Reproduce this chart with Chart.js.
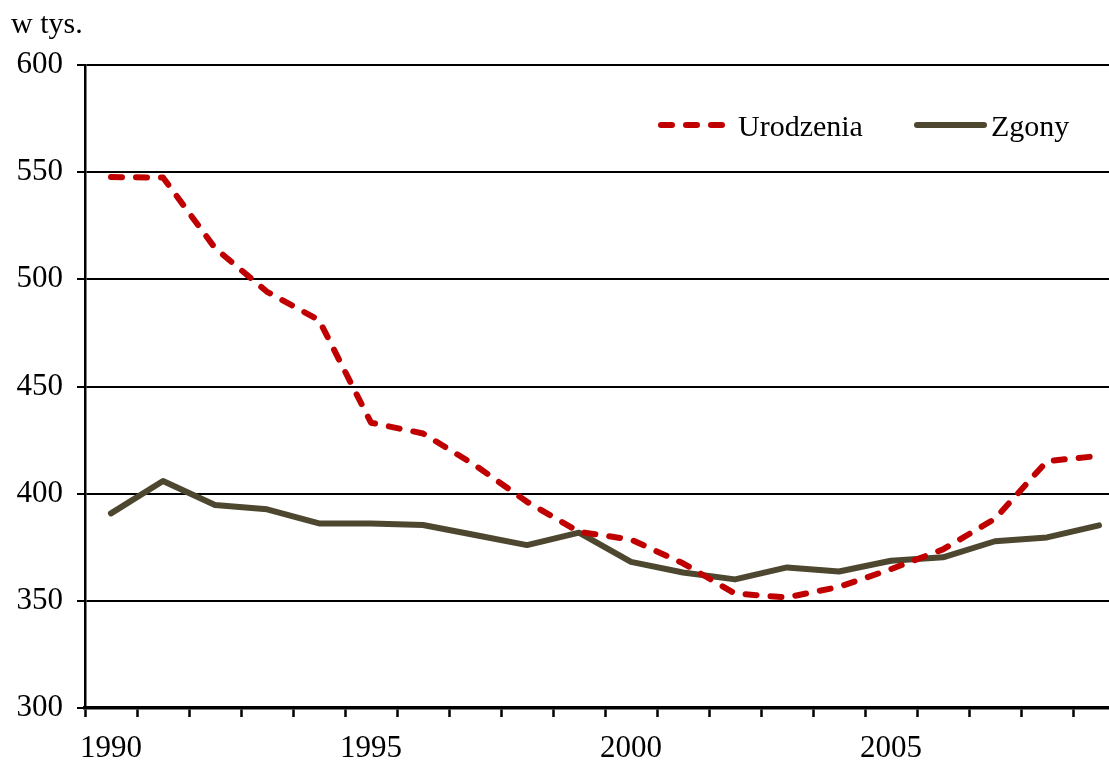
<!DOCTYPE html>
<html>
<head>
<meta charset="utf-8">
<script src="https://cdn.jsdelivr.net/npm/chart.js@4/dist/chart.umd.min.js"></script>
<style>
    html, body { margin: 0; padding: 0; background: #fff; overflow: hidden; }
    #wrap { width: 1125px; height: 764px; }
</style>
</head>
<body>
<div id="wrap"><canvas id="chart" width="1125" height="764"></canvas></div>
<script>
// ───────────────────────── DATA ─────────────────────────
const years     = ["1990", "1991", "1992", "1993", "1994", "1995", "1996", "1997", "1998", "1999",
                   "2000", "2001", "2002", "2003", "2004", "2005", "2006", "2007", "2008", "2009"];
const urodzenia = [547.7, 547.5, 514.6, 494.2, 481.0, 433.1, 428.1, 413.3, 396.2, 382.2,
                   378.6, 367.5, 353.4, 351.6, 356.5, 364.8, 374.0, 388.3, 415.2, 417.6];
const zgony     = [390.8, 405.9, 394.7, 392.7, 386.1, 386.1, 385.4, 380.7, 376.0, 381.8,
                   368.2, 363.2, 360.0, 365.6, 363.7, 368.7, 370.3, 377.8, 379.6, 385.2];
const yTicks    = [300, 350, 400, 450, 500, 550, 600];
const unitLabel = "w tys.";

const FONT  = "'Liberation Serif', 'Times New Roman', serif";
const RED   = "#c00000";
const OLIVE = "#4d4730";

// ───────────────────────── EXTRAS (unit label + legend) ─────────────────────────
const extrasPlugin = {
    id: "extras",
    afterDraw(chart) {
        const ctx = chart.ctx;
        ctx.save();
        ctx.fillStyle = "#000";
        ctx.font = "30px " + FONT;
        ctx.textBaseline = "alphabetic";
        ctx.textAlign = "left";
        ctx.fillText(unitLabel, 11, 33);

        // legend entries, drawn in dataset order
        const entries = [
            { x: 661, textX: 738 },
            { x: 917, textX: 991 }
        ];
        chart.data.datasets.forEach((ds, i) => {
            const e = entries[i];
            const y = 125;
            ctx.strokeStyle = ds.borderColor;
            ctx.lineWidth = ds.borderWidth;
            ctx.lineCap = "round";
            ctx.setLineDash(ds.borderDash || []);
            ctx.beginPath();
            if (ds.borderDash) {
                ctx.moveTo(e.x, y);
                ctx.lineTo(e.x + 64, y);
            } else {
                ctx.moveTo(e.x, y);
                ctx.lineTo(e.x + 67, y);
            }
            ctx.stroke();
            ctx.setLineDash([]);
            ctx.fillStyle = "#000";
            ctx.font = "30px " + FONT;
            ctx.textBaseline = "middle";
            ctx.fillText(ds.label, e.textX, y + 3);
        });
        ctx.restore();
    }
};

// ───────────────────────── CHART ─────────────────────────
const ctx = document.getElementById("chart").getContext("2d");
new Chart(ctx, {
    type: "line",
    data: {
        labels: years,
        datasets: [{
            label:          "Urodzenia",
            data:           urodzenia,
            borderColor:    RED,
            borderWidth:    6,
            borderDash:     [11, 14],
            borderCapStyle: "round",
            borderJoinStyle: "round",
            pointRadius:    0,
            tension:        0,
            fill:           false
        }, {
            label:          "Zgony",
            data:           zgony,
            borderColor:    OLIVE,
            borderWidth:    6,
            borderCapStyle: "round",
            borderJoinStyle: "round",
            pointRadius:    0,
            tension:        0,
            fill:           false
        }]
    },
    options: {
        responsive: false,
        animation: false,
        devicePixelRatio: 1,
        layout: { padding: { top: 65, left: 0, right: 0, bottom: 0 } },
        plugins: {
            legend:  { display: false },
            tooltip: { enabled: false }
        },
        scales: {
            x: {
                type: "category",
                offset: true,
                border: { display: true, color: "#000", width: 3.5 },
                grid: {
                    offset: true,
                    drawOnChartArea: false,
                    drawTicks: true,
                    tickLength: 9,
                    tickColor: "#000",
                    tickWidth: 2.5
                },
                ticks: {
                    autoSkip: false,
                    maxRotation: 0,
                    color: "#000",
                    font: { family: FONT, size: 31 },
                    padding: 13,
                    callback: function(value) {
                        const y = this.getLabelForValue(value);
                        return Number(y) % 5 === 0 ? y : "";
                    }
                },
                afterFit(scale) { scale.height = 56; }
            },
            y: {
                min: 300,
                max: 600,
                border: { display: true, color: "#000", width: 2.5 },
                grid: {
                    color: "#000",
                    lineWidth: 2,
                    tickLength: 8,
                    tickColor: "#000"
                },
                afterBuildTicks(scale) { scale.ticks = yTicks.map(v => ({ value: v })); },
                ticks: {
                    color: "#000",
                    font: { family: FONT, size: 31 },
                    padding: 14
                },
                afterFit(scale) { scale.width = 85; }
            }
        }
    },
    plugins: [extrasPlugin]
});
</script>
</body>
</html>
